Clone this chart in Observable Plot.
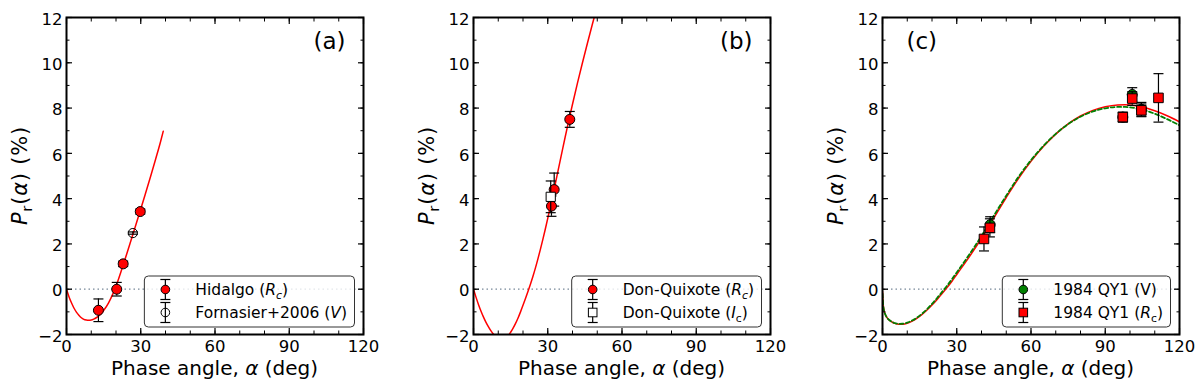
<!DOCTYPE html>
<html><head><meta charset="utf-8">
<script src="https://cdn.jsdelivr.net/npm/d3@7"></script>
<script src="https://cdn.jsdelivr.net/npm/@observablehq/plot@0.6"></script>
<style>
html,body{margin:0;padding:0;background:#fff;}
#root{position:relative;width:1200px;height:385px;overflow:hidden;font-family:"DejaVu Sans",sans-serif;}
#root svg{position:absolute;top:0;}
</style></head><body><div id="root"></div>
<script>
// ---- tick values ----
const xMajorTicks = [0, 30, 60, 90, 120];
const xMinorTicks = [0, 10, 20, 30, 40, 50, 60, 70, 80, 90, 100, 110, 120];
const yMajorTicks = [-2, 0, 2, 4, 6, 8, 10, 12];
const yMinorTicks = [-2, -1, 0, 1, 2, 3, 4, 5, 6, 7, 8, 9, 10, 11, 12];

// ---- panel (a): Hidalgo ----
const hidalgoAlpha = [12.9, 20.3, 22.9, 29.8];
const hidalgoP = [-0.93, 0.0, 1.12, 3.43];
const hidalgoErr = [0.5, 0.3, 0.12, 0.11];
const fornasierAlpha = [26.8];
const fornasierP = [2.48];
const fornasierErr = [0.05];
const fitAAlpha = [0, 1, 2, 3, 4, 5, 6, 7, 8, 9, 10, 11, 12, 13, 15, 17, 19, 21, 23, 25, 27, 29, 30, 32, 34, 36, 38, 39.1];
const fitAP = [0, -0.33, -0.6, -0.83, -1.01, -1.15, -1.26, -1.33, -1.36, -1.37, -1.36, -1.32, -1.26, -1.18, -0.94, -0.6, -0.14, 0.44, 1.1, 1.79, 2.48, 3.19, 3.54, 4.26, 4.99, 5.74, 6.51, 6.98];

// ---- panel (b): Don-Quixote ----
const dqRcAlpha = [31.5, 32.6, 38.9];
const dqRcP = [3.67, 4.40, 7.5];
const dqRcErr = [0.45, 0.73, 0.35];
const dqIcAlpha = [31.2];
const dqIcP = [4.08];
const dqIcErr = [0.7];
const fitBAlpha = [0, 1, 2, 3, 4, 5, 6, 7, 8, 9, 10, 11, 12, 13, 14, 15, 16, 17, 18, 19, 20, 21, 22, 23, 24, 25, 26, 27, 28, 29, 30, 31, 32, 33, 34, 35, 36, 37, 38, 39, 40, 42, 44, 46, 48, 50];
const fitBP = [0, -0.35, -0.67, -0.96, -1.22, -1.45, -1.65, -1.83, -1.98, -2.1, -2.18, -2.22, -2.22, -2.17, -2.06, -1.9, -1.72, -1.51, -1.27, -1.0, -0.71, -0.41, -0.1, 0.22, 0.56, 0.93, 1.33, 1.75, 2.19, 2.65, 3.13, 3.62, 4.12, 4.63, 5.15, 5.67, 6.19, 6.70, 7.20, 7.69, 8.17, 9.1, 9.99, 10.85, 11.69, 12.51];

// ---- panel (c): 1984 QY1 ----
const qyVAlpha = [43.5, 97.1, 100.9, 104.6];
const qyVP = [2.85, 7.6, 8.6, 7.95];
const qyVErr = [0.35, 0.22, 0.3, 0.3];
const qyRcAlpha = [41.0, 43.4, 97.1, 100.9, 104.6, 111.5];
const qyRcP = [2.22, 2.71, 7.6, 8.42, 7.9, 8.45];
const qyRcErr = [0.53, 0.4, 0.2, 0.3, 0.28, 1.07];
const fitCAlpha = [0, 0.3, 0.6, 1, 1.5, 2, 3, 4, 5, 6, 7, 8, 10, 12, 14, 16, 18, 20, 22, 24, 26, 28, 30, 35, 40, 45, 50, 55, 60, 65, 70, 75, 80, 85, 90, 95, 98, 100, 105, 110, 115, 120];
const fitCRcP = [-0.1, -0.7, -0.92, -1.08, -1.2, -1.28, -1.39, -1.46, -1.51, -1.54, -1.55, -1.545, -1.5, -1.41, -1.28, -1.115, -0.92, -0.7, -0.46, -0.205, 0.06, 0.34, 0.65, 1.42, 2.25, 3.15, 4.05, 4.9, 5.65, 6.3, 6.85, 7.3, 7.65, 7.9, 8.06, 8.14, 8.15, 8.14, 8.05, 7.88, 7.66, 7.39];
const fitCVP = [-0.2, -0.72, -0.93, -1.08, -1.2, -1.28, -1.38, -1.45, -1.5, -1.52, -1.53, -1.525, -1.48, -1.38, -1.25, -1.08, -0.88, -0.65, -0.4, -0.13, 0.14, 0.43, 0.74, 1.52, 2.35, 3.25, 4.13, 4.97, 5.7, 6.33, 6.86, 7.29, 7.62, 7.85, 7.99, 8.05, 8.05, 8.03, 7.93, 7.75, 7.51, 7.24];

// ---- helpers ----
const rows = (xs, ys, es) => xs.map((x, i) => ({x, y: ys[i], e: es ? es[i] : 0}));
const cap = {draw(ctx) { ctx.moveTo(-5, 0); ctx.lineTo(5, 0); }};
const RED = "#ff0000", GREEN = "#008000";

function errorMarks(data, marker) {
  return [
    Plot.ruleX(data, {x: "x", y1: d => d.y - d.e, y2: d => d.y + d.e, stroke: "black", strokeWidth: 1.2}),
    Plot.dot(data, {x: "x", y: d => d.y + d.e, symbol: cap, r: 5, fill: "none", stroke: "black", strokeWidth: 1.2}),
    Plot.dot(data, {x: "x", y: d => d.y - d.e, symbol: cap, r: 5, fill: "none", stroke: "black", strokeWidth: 1.2}),
    Plot.dot(data, {x: "x", y: "y", stroke: "black", strokeWidth: 1, ...marker})
  ];
}

function axes() {
  const out = [
    Plot.axisX(xMajorTicks, {anchor: "bottom", tickSize: 0, tickPadding: 6, fontSize: 16.5, label: null}),
    Plot.axisY(yMajorTicks, {anchor: "left", tickSize: 0, tickPadding: 4, fontSize: 16.5, dy: 2, label: null})
  ];
  for (const a of ["bottom", "top"]) {
    out.push(Plot.axisX(xMajorTicks, {anchor: a, tickSize: -6, tickFormat: () => "", label: null, strokeWidth: 1.2}));
    out.push(Plot.axisX(xMinorTicks, {anchor: a, tickSize: -3.5, tickFormat: () => "", label: null, strokeWidth: 1}));
  }
  for (const a of ["left", "right"]) {
    out.push(Plot.axisY(yMajorTicks, {anchor: a, tickSize: -6, tickFormat: () => "", label: null, strokeWidth: 1.2}));
    out.push(Plot.axisY(yMinorTicks, {anchor: a, tickSize: -3.5, tickFormat: () => "", label: null, strokeWidth: 1}));
  }
  return out;
}

function addParts(textSel, parts, size) {
  let shifted = 0;
  for (const [t, st = ""] of parts) {
    const ts = textSel.append("tspan").text(t);
    if (st.includes("i")) ts.attr("font-style", "italic");
    const wantSub = st.includes("s");
    if (wantSub && !shifted) { ts.attr("dy", 0.25 * size); shifted = 0.25 * size; }
    else if (!wantSub && shifted) { ts.attr("dy", -shifted); shifted = 0; }
    if (wantSub) ts.attr("font-size", 0.7 * size);
  }
}

function drawLegend(svg, items) {
  const right = 354.5, top = 276, rowH = 23, firstCenter = 289.5, size = 15.5;
  const g = svg.append("g").attr("text-anchor", "start");
  const rect = g.append("rect");
  let maxW = 0;
  const texts = items.map((it, i) => {
    const cy = firstCenter + i * rowH;
    const t = g.append("text").attr("y", cy + 5.6).attr("font-size", size).attr("text-anchor", "start")
      .attr("font-family", "DejaVu Sans").attr("fill", "black");
    addParts(t, it.label, size);
    maxW = Math.max(maxW, t.node().getComputedTextLength());
    return {t, cy};
  });
  const left = right - 7.5 - maxW - 51;
  rect.attr("x", left).attr("y", top).attr("width", right - left).attr("height", 51).attr("rx", 4)
    .attr("fill", "white").attr("fill-opacity", 0.8).attr("stroke", "#333").attr("stroke-width", 1);
  items.forEach((it, i) => {
    const {t, cy} = texts[i];
    t.attr("x", left + 51);
    const mx = left + 21;
    g.append("line").attr("x1", mx).attr("x2", mx).attr("y1", cy - 10).attr("y2", cy + 10).attr("stroke", "black").attr("stroke-width", 1.2);
    for (const yy of [cy - 10, cy + 10])
      g.append("line").attr("x1", mx - 5).attr("x2", mx + 5).attr("y1", yy).attr("y2", yy).attr("stroke", "black").attr("stroke-width", 1.2);
    if (it.shape === "square")
      g.append("rect").attr("x", mx - 4.3).attr("y", cy - 4.3).attr("width", 8.6).attr("height", 8.6).attr("fill", it.fill).attr("stroke", "black");
    else
      g.append("circle").attr("cx", mx).attr("cy", cy).attr("r", 4.3).attr("fill", it.fill).attr("stroke", "black");
  });
}

function panel({left, fits, series, letter, letterAnchor, legend}) {
  const marks = [
    Plot.ruleY([0], {stroke: "#778899", strokeWidth: 1.3, strokeDasharray: "1.5,3"}),
    ...fits.map(f => Plot.line(rows(f.x, f.y), {x: "x", y: "y", stroke: f.color, strokeWidth: f.width || 1.5,
      strokeDasharray: f.dash, curve: "monotone-x", clip: true})),
    ...series.flatMap(s => errorMarks(s.data, s.marker)),
    Plot.text([letter], {frameAnchor: letterAnchor, dx: letterAnchor === "top-right" ? -18 : 24, dy: 15,
      lineAnchor: "top", textAnchor: letterAnchor === "top-right" ? "end" : "start", fontSize: 23, fill: "black"}),
    ...axes(),
    Plot.frame({stroke: "black", strokeWidth: 2})
  ];
  const svgNode = Plot.plot({
    width: 373, height: 385,
    marginLeft: 66, marginRight: 10, marginTop: 17, marginBottom: 51,
    x: {domain: [0, 120]}, y: {domain: [-2, 12]},
    style: {fontFamily: "DejaVu Sans", fontSize: "16.5px", color: "black", background: "transparent", overflow: "visible"},
    marks
  });
  svgNode.style.left = left + "px";
  document.getElementById("root").appendChild(svgNode);
  const svg = d3.select(svgNode);
  // x label
  const xl = svg.append("text").attr("x", 66 + 148.5).attr("y", 375).attr("text-anchor", "middle")
    .attr("font-size", 20).attr("font-family", "DejaVu Sans").attr("fill", "black");
  addParts(xl, [["Phase angle, "], ["α", "i"], [" (deg)"]], 20);
  // y label
  const yl = svg.append("text").attr("transform", "translate(27,175.5) rotate(-90)").attr("text-anchor", "middle")
    .attr("font-size", 21).attr("letter-spacing", 0.8).attr("font-family", "DejaVu Sans").attr("fill", "black");
  addParts(yl, [["P", "i"], ["r", "s"], ["("], ["α", "i"], [") (%)"]], 21);
  drawLegend(svg, legend);
}

panel({
  left: 0, letter: "(a)", letterAnchor: "top-right",
  fits: [{x: fitAAlpha, y: fitAP, color: RED}],
  series: [
    {data: rows(hidalgoAlpha, hidalgoP, hidalgoErr), marker: {symbol: "circle", r: 5, fill: RED}},
    {data: rows(fornasierAlpha, fornasierP, fornasierErr), marker: {symbol: "circle", r: 4.6, fill: "none"}}
  ],
  legend: [
    {label: [["Hidalgo ("], ["R", "i"], ["c", "is"], [")"]], shape: "circle", fill: RED},
    {label: [["Fornasier+2006 ("], ["V", "i"], [")"]], shape: "circle", fill: "none"}
  ]
});

panel({
  left: 407, letter: "(b)", letterAnchor: "top-right",
  fits: [{x: fitBAlpha, y: fitBP, color: RED}],
  series: [
    {data: rows(dqRcAlpha, dqRcP, dqRcErr), marker: {symbol: "circle", r: 5, fill: RED}},
    {data: rows(dqIcAlpha, dqIcP, dqIcErr), marker: {symbol: "square", r: 5.2, fill: "white"}}
  ],
  legend: [
    {label: [["Don-Quixote ("], ["R", "i"], ["c", "is"], [")"]], shape: "circle", fill: RED},
    {label: [["Don-Quixote ("], ["I", "i"], ["c", "s"], [")"]], shape: "square", fill: "white"}
  ]
});

panel({
  left: 816, letter: "(c)", letterAnchor: "top-left",
  fits: [{x: fitCAlpha, y: fitCRcP, color: RED}, {x: fitCAlpha, y: fitCVP, color: GREEN, dash: "4,2.5", width: 1.8}],
  series: [
    {data: rows(qyVAlpha, qyVP, qyVErr), marker: {symbol: "circle", r: 5, fill: GREEN}},
    {data: rows(qyRcAlpha, qyRcP, qyRcErr), marker: {symbol: "square", r: 5.4, fill: RED}}
  ],
  legend: [
    {label: [["1984 QY1 (V)"]], shape: "circle", fill: GREEN},
    {label: [["1984 QY1 ("], ["R", "i"], ["c", "s"], [")"]], shape: "square", fill: RED}
  ]
});
</script></body></html>
